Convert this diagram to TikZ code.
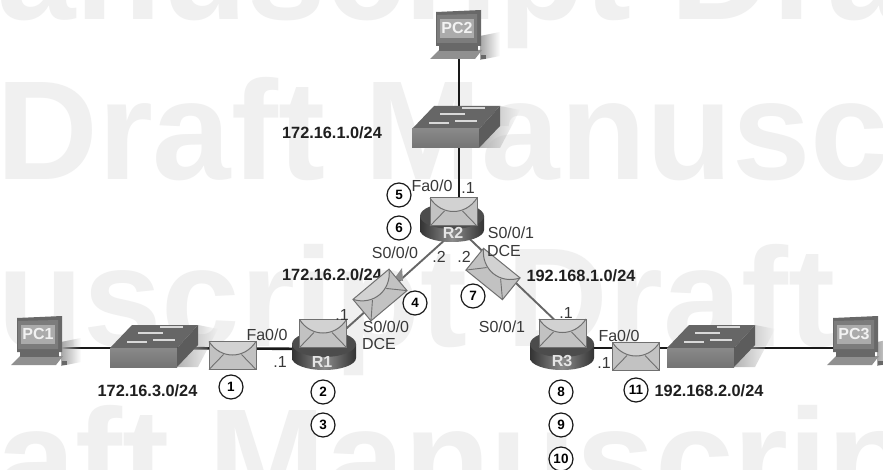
\documentclass[tikz,border=0pt]{standalone}
\usepackage{fontspec}
\usetikzlibrary{fadings}
\setmainfont{Liberation Sans}
\definecolor{wm}{HTML}{F0F0F0}
\definecolor{swtop}{HTML}{666666}
\definecolor{swfront}{HTML}{747474}
\definecolor{swside}{HTML}{5C5C5C}
\definecolor{pcbody}{HTML}{7C7C7C}
\definecolor{pcdark}{HTML}{686868}
\definecolor{pcscreen}{HTML}{ABABAB}
\definecolor{envfill}{HTML}{C2C2C2}
\definecolor{envflap}{HTML}{D2D2D2}
\definecolor{envedge}{HTML}{707070}
\tikzset{
  x=1pt,y=-1pt,
  watermark/.style={font=\fontsize{141}{141}\bfseries\selectfont,text=wm,anchor=base west,inner sep=0pt},
  cable/.style={line width=2.6pt,black!90},
  wan/.style={line width=1.9pt,black!60},
  lab/.style={font=\fontsize{16}{16}\selectfont,text=black!78,inner sep=0pt},
  netlab/.style={font=\fontsize{16.3}{16}\bfseries\selectfont,text=black!88,inner sep=0pt},
  stepnum/.style={circle,draw=black!90,line width=1.2pt,fill=white,minimum size=24pt,inner sep=0pt,font=\fontsize{13.5}{14}\bfseries\selectfont},
  devlab/.style={font=\fontsize{16}{16}\bfseries\selectfont,text=white!90!black,inner sep=0pt},
  pclab/.style={font=\fontsize{16}{16}\bfseries\selectfont,text=white!95!black,inner sep=0pt},
  pcicon/.pic={
    \fill[black!35,path fading=east] (44,26) -- (64,22) -- (64,46) -- (44,50) -- cycle;
    % keyboard
    \fill[pcbody!85] (-6,49) -- (3,40) -- (46,40) -- (39,49) -- cycle;
    \fill[pcdark] (45,45) -- (50,45) -- (50,49) -- (45,49) -- cycle;
    % stand
    \fill[pcdark] (3,34) rectangle (42,41);
    % monitor
    \fill[pcdark] (0,2) -- (45,0) -- (45,36) -- (0,36) -- cycle;
    \fill[pcbody] (1,5) -- (41,4) -- (41,33) -- (1,33) -- cycle;
    \fill[pcscreen] (4,9) rectangle (38,28);
  },
  switchicon/.pic={
    \fill[black!30,path fading=east] (88,0) -- (108,4) -- (88,42) -- (67,42) -- cycle;
    \fill[swtop] (0,23) -- (22,0) -- (88,0) -- (67,23) -- cycle;
    \path[top color=swfront!85!white,bottom color=swfront] (0,23) rectangle (67,42);
    \fill[swside] (67,23) -- (88,0) -- (88,20) -- (67,42) -- cycle;
    \foreach \a/\b/\c in {50/73/2,28/53/8,43/65/15,17/37/17}
      \draw[white!85!black,line width=1.1pt] (\a,\c) -- (\b,\c);
  },
  routericon/.pic={
    \path[left color=black!80,right color=black!80,middle color=black!45]
      (-32,0) -- (-32,14) arc[start angle=180,end angle=0,x radius=32,y radius=12] -- (32,0) -- cycle;
    \fill[black!70] (0,0) ellipse (32 and 13);
  },
  envelope/.pic={
    \fill[envfill] (-23.5,-14) rectangle (23.5,14);
    \draw[envedge,line width=.9pt] (-23.5,14) -- (-9,-1) (23.5,14) -- (9,-1);
    \fill[envflap] (-23.5,-14) .. controls (-12,4) and (12,4) .. (23.5,-14) -- cycle;
    \draw[envedge,line width=1pt] (-23.5,-14) .. controls (-12,4) and (12,4) .. (23.5,-14);
    \draw[envedge,line width=1pt] (-23.5,-14) rectangle (23.5,14);
  }
}
\begin{document}
\begin{tikzpicture}
\useasboundingbox (0,0) rectangle (883,470);
\begin{scope}
\clip (0,0) rectangle (883,470);
\fill[white] (0,0) rectangle (883,470);
\node[watermark] (wmA) at (-3,20) {anuscript Draft};
\node[watermark] (wmB) at (-4,180) {Draft Manuscript};
\node[watermark] (wmC) at (-3,346) {uscript Draft};
\node[watermark] (wmD) at (-3,507) {aft Manuscript};
\end{scope}
% anchor points
\coordinate (PC1) at (40,348);
\coordinate (SW1) at (154,348);
\coordinate (PC2) at (459,50);
\coordinate (SW2) at (459,127);
\coordinate (PC3) at (850,348);
\coordinate (SW3) at (711,348);
\coordinate (R1c) at (323,349);
\coordinate (R1e) at (323,349.5);
\coordinate (R2w) at (453,232.6);
\coordinate (R2e) at (453,223);
\coordinate (R2c) at (459,215);
\coordinate (R3w) at (562,327);
\coordinate (R3c) at (562,348);
% connectors
\draw[cable] (PC1) -- (SW1);
\draw[cable] (SW1) -- (R1c);
\draw[cable] (PC2) -- (SW2);
\draw[cable] (SW2) -- (R2c);
\draw[cable] (R3c) -- (SW3);
\draw[cable] (SW3) -- (PC3);
\draw[wan] (R1e) -- (R2w);
\draw[wan] (R2e) -- (R3w);
% devices
\pic at (17,316) {pcicon};
\pic at (436,10) {pcicon};
\pic at (833,316) {pcicon};
\pic at (110,325) {switchicon};
\pic at (412,106) {switchicon};
\pic at (667,325) {switchicon};
\pic at (324,344) {routericon};
\pic at (452,216) {routericon};
\pic at (562,344) {routericon};
\node[pclab] (PC1t) at (38,334) {PC1};
\node[pclab] (PC2t) at (457,28) {PC2};
\node[pclab] (PC3t) at (854,334) {PC3};
\node[devlab] (R1) at (322,362) {R1};
\node[devlab] (R2) at (453,233) {R2};
\node[devlab] (R3) at (562,361) {R3};
% network label that sits under an envelope
\node[netlab] (n2) at (332,275) {172.16.2.0/24};
\fill[black!45] (394,279) -- (402,268) -- (403,281) -- cycle;
% envelopes
\pic at (232.5,355.5) {envelope};
\pic at (323,333.5) {envelope};
\pic at (453.5,212) {envelope};
\pic[rotate=40] at (380,295) {envelope};
\pic[rotate=-39] at (493,274) {envelope};
\pic at (562.5,333) {envelope};
\pic at (636,356.5) {envelope};
% labels
\node[netlab] (n1) at (332,133) {172.16.1.0/24};
\node[netlab] (n3) at (147.5,391) {172.16.3.0/24};
\node[netlab] (n4) at (581,276) {192.168.1.0/24};
\node[netlab] (n5) at (709,391) {192.168.2.0/24};
\node[lab] (l1) at (432,186) {Fa0/0};
\node[lab] (l2) at (468,188) {.1};
\node[lab] (l3) at (395,253) {S0/0/0};
\node[lab] (l4) at (439,257) {.2};
\node[lab] (l5) at (464,257) {.2};
\node[lab] (l6) at (511,233) {S0/0/1};
\node[lab] (l7) at (504,251) {DCE};
\node[lab] (l8) at (342,315) {.1};
\node[lab] (l9) at (386,327) {S0/0/0};
\node[lab] (l10) at (379,344) {DCE};
\node[lab] (l11) at (502,327) {S0/0/1};
\node[lab] (l12) at (566,313) {.1};
\node[lab] (l13) at (267,335) {Fa0/0};
\node[lab] (l14) at (280,362) {.1};
\node[lab] (l15) at (619,336) {Fa0/0};
\node[lab] (l16) at (604,363) {.1};
% numbered steps
\node[stepnum] (s1) at (231,387) {1};
\node[stepnum] (s2) at (323,392) {2};
\node[stepnum] (s3) at (323,425) {3};
\node[stepnum] (s4) at (415,303) {4};
\node[stepnum] (s5) at (399,195) {5};
\node[stepnum] (s6) at (399,228) {6};
\node[stepnum] (s7) at (473,296) {7};
\node[stepnum] (s8) at (561,392) {8};
\node[stepnum] (s9) at (561,425) {9};
\node[stepnum] (s10) at (561,459) {10};
\node[stepnum] (s11) at (636,390) {11};
\end{tikzpicture}
\end{document}
